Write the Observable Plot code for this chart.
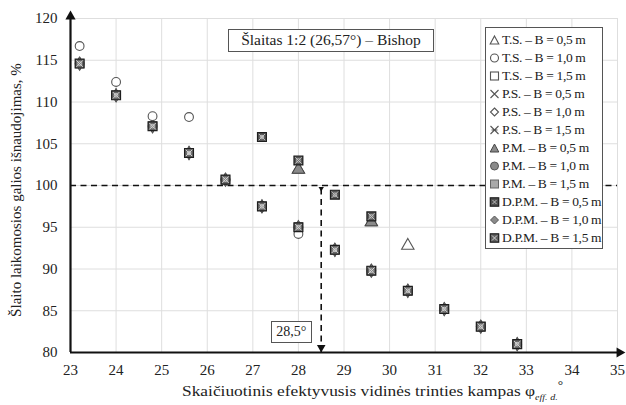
<!DOCTYPE html>
<html><head><meta charset="utf-8">
<script src="https://cdn.jsdelivr.net/npm/d3@7"></script>
<script src="https://cdn.jsdelivr.net/npm/@observablehq/plot@0.6"></script>
<style>
body{margin:0;background:#fff;font-family:"Liberation Serif","Times New Roman",serif;color:#222;}
#wrap{position:relative;width:626px;height:405px;overflow:hidden;}
#wrap svg{position:absolute;left:0;top:0;overflow:visible;}
.box{position:absolute;background:#fff;border:1.5px solid #555;box-sizing:border-box;white-space:nowrap;}
#legend{font-size:13.5px;letter-spacing:-0.35px;padding:3px 0 0 3px;}
#legend .row{height:18px;display:flex;align-items:center;}
#legend svg{position:static;margin-right:2px;}
#xlabel{position:absolute;font-size:15.5px;white-space:nowrap;transform-origin:0 0;}
#ylabel{position:absolute;font-size:15px;white-space:nowrap;transform:translate(-50%,-50%) rotate(-90deg);}
</style></head><body><div id="wrap"></div>
<script>
// ---- data ----
const xDomain = [23, 35];
const yDomain = [80, 120];
const xTicks = [23, 24, 25, 26, 27, 28, 29, 30, 31, 32, 33, 34, 35];
const yTicks = [80, 85, 90, 95, 100, 105, 110, 115, 120];

// lower branch (B = 1,0 / 1,5 m results)
const phiLower = [23.2, 24.0, 24.8, 25.6, 26.4, 27.2, 28.0, 28.8, 29.6, 30.4, 31.2, 32.0, 32.8];
const valLower = [114.6, 110.8, 107.1, 103.9, 100.7, 97.5, 95.0, 92.3, 89.8, 87.4, 85.2, 83.1, 81.0];
// upper branch (B = 0,5 m results)
const phiUpper = [27.2, 28.0, 28.8, 29.6];
const valUpper = [105.8, 103.0, 98.9, 96.3];
// T.S. – B = 0,5 m
const phiTS05 = [28.0, 29.6, 30.4];
const valTS05 = [101.9, 95.6, 92.8];
// T.S. – B = 1,0 m
const phiTS10 = [23.2, 24.0, 24.8, 25.6, 26.4, 27.2, 28.0];
const valTS10 = [116.7, 112.4, 108.3, 108.2, 100.7, 97.5, 94.2];
// P.M. – B = 0,5 m
const phiPM05 = [28.0, 29.6];
const valPM05 = [101.9, 95.6];

const critPhi = 28.5;
const refLevel = 100;
const titleText = "Šlaitas 1:2 (26,57°) – Bishop";
const critText = "28,5°";
const yLabelText = "Šlaito laikomosios galios išnaudojimas, %";

const seriesNames = [
  "T.S. – B = 0,5 m", "T.S. – B = 1,0 m", "T.S. – B = 1,5 m",
  "P.S. – B = 0,5 m", "P.S. – B = 1,0 m", "P.S. – B = 1,5 m",
  "P.M. – B = 0,5 m", "P.M. – B = 1,0 m", "P.M. – B = 1,5 m",
  "D.P.M. – B = 0,5 m", "D.P.M. – B = 1,0 m", "D.P.M. – B = 1,5 m"
];
const seriesStyle = [
  "triOpen", "circOpen", "sqOpen",
  "times", "diamOpen", "aster",
  "triFill", "circFill", "sqFill",
  "dpm05", "diamFill", "dpm15"
];
const seriesPhi = [phiTS05, phiTS10, phiLower, phiUpper, phiLower, phiLower, phiPM05, phiLower, phiLower, phiUpper, phiLower, phiLower];
const seriesVal = [valTS05, valTS10, valLower, valUpper, valLower, valLower, valPM05, valLower, valLower, valUpper, valLower, valLower];
// drawing order (bottom → top)
const drawOrder = [2, 4, 5, 3, 7, 8, 10, 1, 0, 6, 11, 9];

// ---- marks ----
function symbolMarks(style, data) {
  const o = {x: "phi", y: "v"};
  switch (style) {
    case "triOpen": return [Plot.dot(data, {...o, symbol: "triangle", r: 4.6, fill: "white", stroke: "#555", strokeWidth: 1.1})];
    case "circOpen": return [Plot.dot(data, {...o, symbol: "circle", r: 4.4, fill: "white", stroke: "#555", strokeWidth: 1.1})];
    case "sqOpen": return [Plot.dot(data, {...o, symbol: "square", r: 4.6, fill: "white", stroke: "#555", strokeWidth: 1.1})];
    case "times": return [Plot.dot(data, {...o, symbol: "times", r: 4, stroke: "#555", strokeWidth: 1.1})];
    case "diamOpen": return [Plot.dot(data, {...o, symbol: "diamond", r: 4, fill: "white", stroke: "#555", strokeWidth: 1.1})];
    case "aster": return [Plot.dot(data, {...o, symbol: "asterisk", r: 4, stroke: "#555", strokeWidth: 1.1})];
    case "triFill": return [Plot.dot(data, {...o, symbol: "triangle", r: 4.6, fill: "#8a8a8a", stroke: "#444", strokeWidth: 1})];
    case "circFill": return [Plot.dot(data, {...o, symbol: "circle", r: 4.4, fill: "#8a8a8a", stroke: "#555", strokeWidth: 1})];
    case "sqFill": return [Plot.dot(data, {...o, symbol: "square", r: 4.6, fill: "#aaa", stroke: "#666", strokeWidth: 1})];
    case "diamFill": return [Plot.dot(data, {...o, symbol: "diamond", r: 4, fill: "#8a8a8a", stroke: "#555", strokeWidth: 1})];
    case "dpm05": return [
      Plot.dot(data, {...o, symbol: "square", r: 5, fill: "#555", stroke: "#1e1e1e", strokeWidth: 1.2}),
      Plot.dot(data, {...o, symbol: "times", r: 3, stroke: "#c4c4c4", strokeWidth: 1}),
      Plot.dot(data, {...o, symbol: "circle", r: 1.8, fill: "none", stroke: "#c4c4c4", strokeWidth: 0.9})
    ];
    case "dpm15": return [
      Plot.dot(data, {...o, symbol: "square", r: 5, fill: "#666", stroke: "#1e1e1e", strokeWidth: 1.2}),
      Plot.dot(data, {...o, symbol: "times", r: 3, stroke: "#d6d6d6", strokeWidth: 1}),
      Plot.dot(data, {...o, symbol: "circle", r: 1.8, fill: "none", stroke: "#d6d6d6", strokeWidth: 0.9})
    ];
  }
  return [];
}

const pointMarks = drawOrder.flatMap(i => {
  const data = seriesPhi[i].map((p, k) => ({phi: p, v: seriesVal[i][k], series: seriesNames[i]}));
  return symbolMarks(seriesStyle[i], data);
});

const plot = Plot.plot({
  width: 626,
  height: 405,
  marginLeft: 70,
  marginRight: 9,
  marginTop: 18,
  marginBottom: 53,
  style: {fontFamily: "'Liberation Serif','Times New Roman',serif", fontSize: "15px", color: "#222", background: "transparent"},
  x: {domain: xDomain},
  y: {domain: yDomain},
  marks: [
    Plot.gridX(xTicks, {stroke: "#dedede", strokeOpacity: 1, strokeWidth: 1}),
    Plot.gridY(yTicks, {stroke: "#dedede", strokeOpacity: 1, strokeWidth: 1}),
    Plot.axisX(xTicks, {tickSize: 0, tickPadding: 12, label: null, tickFormat: d => d, fill: "#222"}),
    Plot.axisY(yTicks, {tickSize: 0, tickPadding: 13, label: null, tickFormat: d => d, fill: "#222"}),
    Plot.ruleY([refLevel], {stroke: "#111", strokeWidth: 1.6, strokeDasharray: "6,4.5"}),
    Plot.ruleX([critPhi], {y1: yDomain[0], y2: refLevel, stroke: "#111", strokeWidth: 1.6, strokeDasharray: "6,4.5"}),
    Plot.dot([critPhi], {x: d => d, y: yDomain[0], dy: -5, symbol: "triangle", rotate: 180, r: 3.2, fill: "#111"}),
    Plot.dot([critPhi], {x: d => d, y: refLevel, dy: 3, symbol: "triangle", rotate: 180, r: 2, fill: "#111"}),
    ...pointMarks,
    Plot.ruleX([xDomain[0]], {y1: yDomain[0], y2: yDomain[1], stroke: "#111", strokeWidth: 2.2, clip: false}),
    Plot.ruleY([yDomain[0]], {x1: xDomain[0], x2: xDomain[1], stroke: "#111", strokeWidth: 2.2, clip: false}),
    Plot.dot([0], {x: xDomain[0], y: yDomain[1], symbol: "triangle", r: 3.8, fill: "#111", dy: -2}),
    Plot.dot([0], {x: xDomain[1], y: yDomain[0], symbol: "triangle", rotate: 90, r: 3.8, fill: "#111", dx: 2})
  ]
});

const wrap = document.getElementById("wrap");
wrap.appendChild(plot);
const sx = plot.scale("x"), sy = plot.scale("y");

// title box
const title = document.createElement("div");
title.className = "box";
title.style.cssText = "left:228px;top:29px;width:206px;height:23px;font-size:15.5px;line-height:20px;text-align:center;";
title.textContent = titleText;
wrap.appendChild(title);

// 28,5° box
const crit = document.createElement("div");
crit.className = "box";
crit.style.cssText = `left:${sx.apply(critPhi) - 50}px;top:321px;width:41px;height:22px;font-size:14px;line-height:19px;text-align:center;`;
crit.textContent = critText;
wrap.appendChild(crit);

// legend
const symSvg = {
  triOpen: '<path d="M5 1 L9.3 9 L0.7 9 Z" fill="#fff" stroke="#555" stroke-width="1.1"/>',
  circOpen: '<circle cx="5" cy="5" r="4" fill="#fff" stroke="#555" stroke-width="1.1"/>',
  sqOpen: '<rect x="1" y="1" width="8" height="8" fill="#fff" stroke="#555" stroke-width="1.1"/>',
  times: '<path d="M1 1 L9 9 M9 1 L1 9" stroke="#555" stroke-width="1.1"/>',
  diamOpen: '<path d="M5 1 L9 5 L5 9 L1 5 Z" fill="#fff" stroke="#555" stroke-width="1.1"/>',
  aster: '<path d="M1 1 L9 9 M9 1 L1 9 M2 5 L8 5" stroke="#555" stroke-width="1.1"/>',
  triFill: '<path d="M5 1 L9.3 9 L0.7 9 Z" fill="#8a8a8a" stroke="#444" stroke-width="1"/>',
  circFill: '<circle cx="5" cy="5" r="4" fill="#8a8a8a" stroke="#555" stroke-width="1"/>',
  sqFill: '<rect x="1" y="1" width="8" height="8" fill="#aaa" stroke="#666" stroke-width="1"/>',
  dpm05: '<rect x="0.8" y="0.8" width="8.4" height="8.4" fill="#505050" stroke="#1e1e1e" stroke-width="1.2"/><path d="M3 3 L7 7 M7 3 L3 7" stroke="#bdbdbd" stroke-width="1"/>',
  diamFill: '<path d="M5 1 L9 5 L5 9 L1 5 Z" fill="#8a8a8a" stroke="#555" stroke-width="1"/>',
  dpm15: '<rect x="0.8" y="0.8" width="8.4" height="8.4" fill="#606060" stroke="#1e1e1e" stroke-width="1.2"/><path d="M2.5 2.5 L7.5 7.5 M7.5 2.5 L2.5 7.5" stroke="#d2d2d2" stroke-width="1"/>'
};
const legend = document.createElement("div");
legend.className = "box";
legend.id = "legend";
legend.style.left = "485px";
legend.style.top = "27px";
legend.style.width = "118px";
legend.style.height = "222px";
legend.innerHTML = seriesNames.map((n, i) =>
  `<div class="row"><svg width="11" height="10" viewBox="0 0 10 10">${symSvg[seriesStyle[i]]}</svg><span>${n}</span></div>`
).join("");
wrap.appendChild(legend);

// axis labels
const xl = document.createElement("div");
xl.id = "xlabel";
xl.innerHTML = 'Skaičiuotinis efektyvusis vidinės trinties kampas φ<sub style="font-size:9px;font-style:italic;vertical-align:-4px;">eff. d.</sub><span style="position:relative;top:-7px;font-size:12px;">°</span>';
wrap.appendChild(xl);
const targetW = 381;
const sc = targetW / xl.offsetWidth;
xl.style.transform = `scaleX(${sc})`;
xl.style.left = (182) + "px";
xl.style.top = "382px";

const yl = document.createElement("div");
yl.id = "ylabel";
yl.textContent = yLabelText;
yl.style.left = "16px";
yl.style.top = "190px";
wrap.appendChild(yl);
</script>
</body></html>
